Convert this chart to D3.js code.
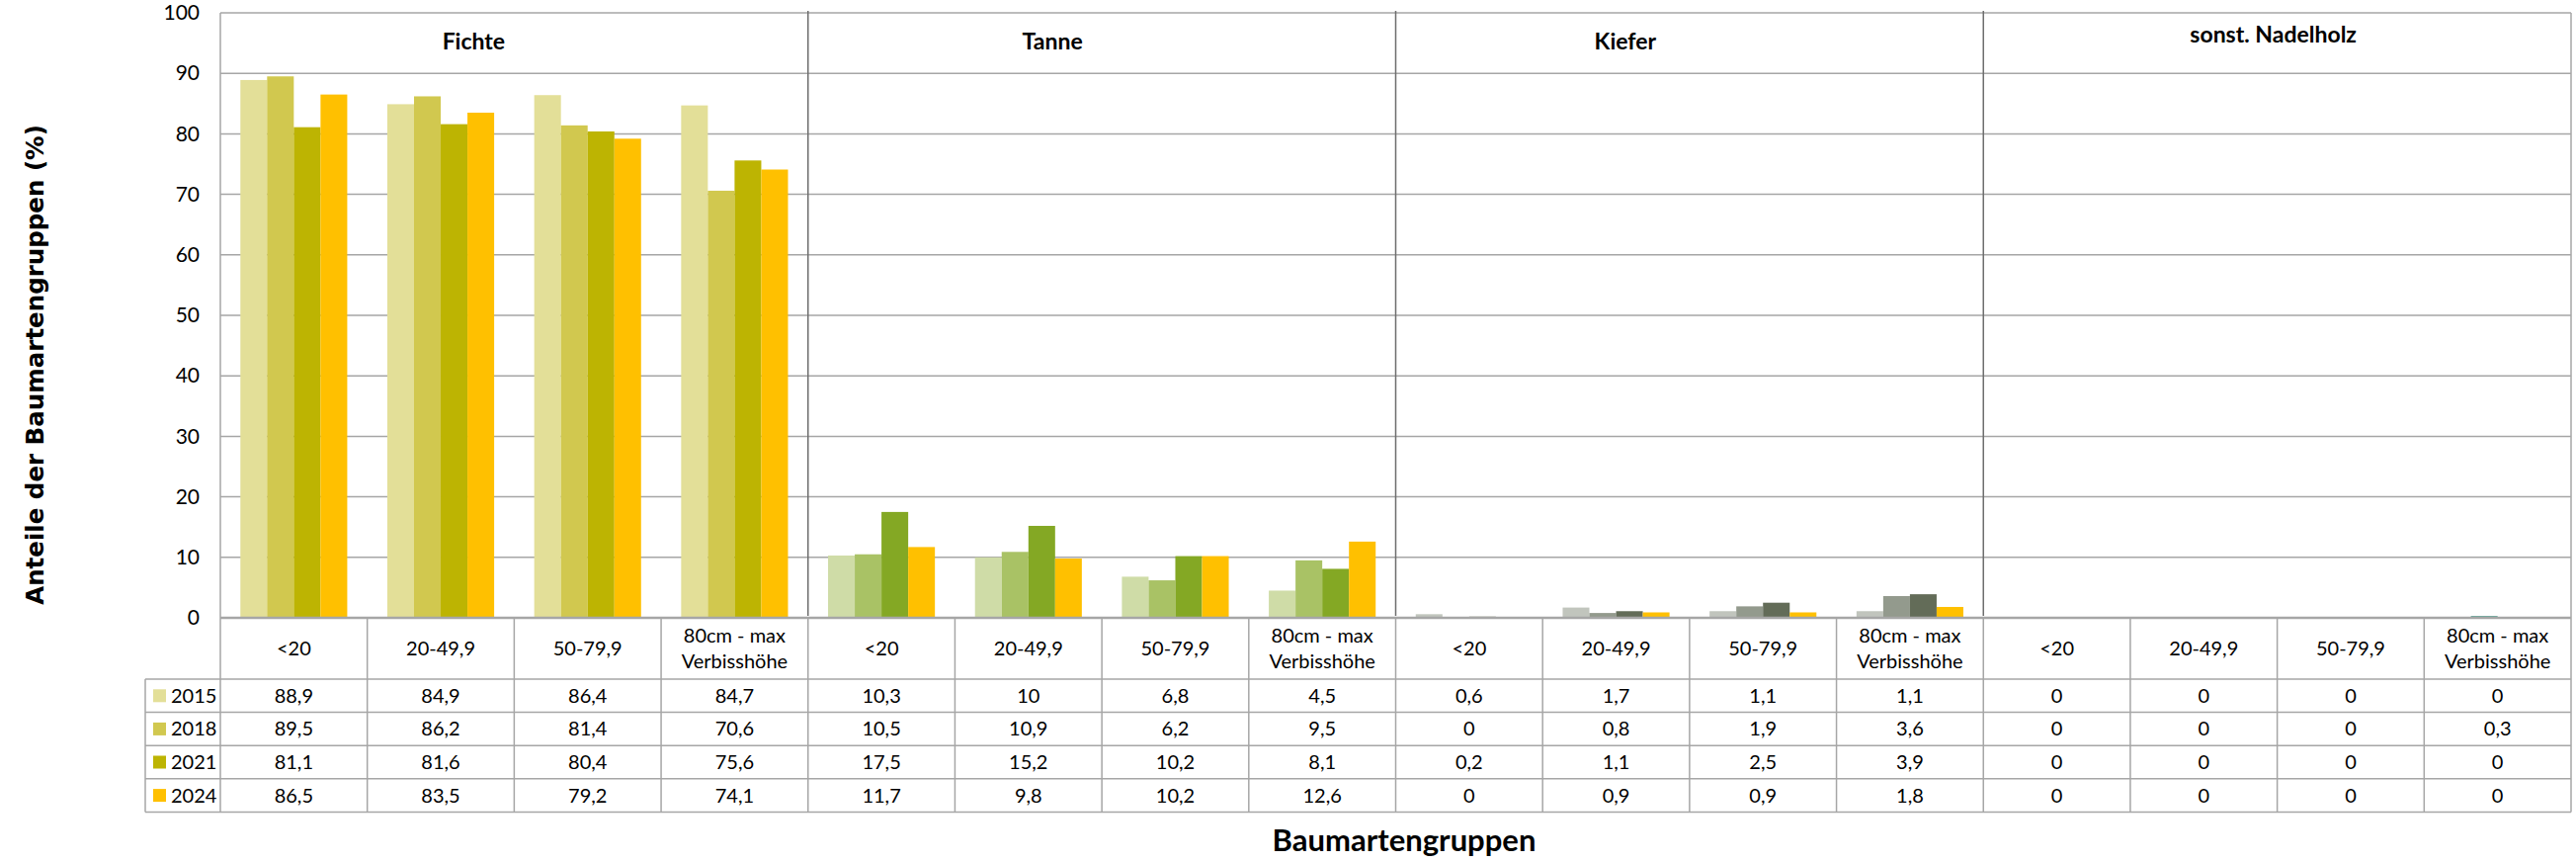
<!DOCTYPE html>
<html>
<head>
<meta charset="utf-8">
<script src="https://cdn.jsdelivr.net/npm/d3@7"></script>
<style>
    body { margin: 0; background: #fff; }
    text { font-family: Lato, "Open Sans", sans-serif; fill: #000; }
</style>
</head>
<body>
<svg id="chart" width="2607" height="872"></svg>
<script>
var groups = ['Fichte', 'Tanne', 'Kiefer', 'sonst. Nadelholz'];
var heightClasses = ['<20', '20-49,9', '50-79,9', '80cm - max|Verbisshöhe'];
var years = ['2015', '2018', '2021', '2024'];
var yTicks = [0, 10, 20, 30, 40, 50, 60, 70, 80, 90, 100];

// one row per year: 16 values (4 groups x 4 height classes)
var values2015 = [88.9, 84.9, 86.4, 84.7, 10.3, 10, 6.8, 4.5, 0.6, 1.7, 1.1, 1.1, 0, 0, 0, 0];
var values2018 = [89.5, 86.2, 81.4, 70.6, 10.5, 10.9, 6.2, 9.5, 0, 0.8, 1.9, 3.6, 0, 0, 0, 0.3];
var values2021 = [81.1, 81.6, 80.4, 75.6, 17.5, 15.2, 10.2, 8.1, 0.2, 1.1, 2.5, 3.9, 0, 0, 0, 0];
var values2024 = [86.5, 83.5, 79.2, 74.1, 11.7, 9.8, 10.2, 12.6, 0, 0.9, 0.9, 1.8, 0, 0, 0, 0];
var series = [values2015, values2018, values2021, values2024];

// colours per tree group (one per year)
var palettes = [
    ['#e3df98', '#d1c84f', '#bdb402', '#ffc000'],
    ['#cfdca7', '#a9c265', '#84a824', '#ffc000'],
    ['#c1c5bd', '#939a8d', '#636c58', '#ffc000'],
    ['#a8d3c8', '#4e9a8a', '#2f6e61', '#ffc000']
];

var width = 2607,
    height = 872,
    plotLeft = 223,
    plotRight = 2602,
    plotTop = 13,
    plotBottom = 625,
    legendLeft = 147,
    labelRowBottom = 687,
    rowHeight = 33.6,
    gridColor = '#a6a6a6',
    sepColor = '#6e6e6e',
    titleOffsets = [-41, -50, -65, -4];

var svg = d3.select('#chart');

var xGroup = d3.scaleBand()
    .domain(groups)
    .range([plotLeft, plotRight]);

var xCat = d3.scaleBand()
    .domain(d3.range(heightClasses.length))
    .range([0, xGroup.bandwidth()]);

var xYear = d3.scaleBand()
    .domain(years)
    .range([0, xCat.bandwidth()])
    .paddingOuter(0.75);

var y = d3.scaleLinear()
    .domain([0, 100])
    .range([plotBottom, plotTop]);

function cellX(i) {
    return xGroup(groups[Math.floor(i / 4)]) + xCat(i % 4);
}

function fmt(v) {
    return String(v).replace('.', ',');
}

// gridlines
svg.append('g')
    .selectAll('line')
    .data(yTicks.slice(1))
    .join('line')
    .attr('x1', plotLeft)
    .attr('x2', plotRight)
    .attr('y1', function(d) { return y(d); })
    .attr('y2', function(d) { return y(d); })
    .attr('stroke', gridColor)
    .attr('stroke-width', 1.5);

// plot frame left / right
svg.append('line')
    .attr('x1', plotLeft).attr('x2', plotLeft)
    .attr('y1', plotTop).attr('y2', plotBottom)
    .attr('stroke', gridColor).attr('stroke-width', 1.5);
svg.append('line')
    .attr('x1', plotRight).attr('x2', plotRight)
    .attr('y1', plotTop).attr('y2', plotBottom)
    .attr('stroke', gridColor).attr('stroke-width', 1.5);

// y axis labels
var yAxis = d3.axisLeft(y)
    .tickValues(yTicks)
    .tickSize(0)
    .tickPadding(21);

svg.append('g')
    .attr('transform', 'translate(' + plotLeft + ',0)')
    .call(yAxis)
    .call(function(g) { g.select('.domain').remove(); })
    .selectAll('text')
    .attr('font-size', 21)
    .attr('fill', '#000');

// group separators
svg.append('g')
    .selectAll('line')
    .data(groups.slice(1))
    .join('line')
    .attr('x1', function(d) { return xGroup(d); })
    .attr('x2', function(d) { return xGroup(d); })
    .attr('y1', plotTop - 2)
    .attr('y2', plotBottom - 2)
    .attr('stroke', sepColor)
    .attr('stroke-width', 1.5);

// group titles
svg.append('g')
    .selectAll('text')
    .data(groups)
    .join('text')
    .attr('x', function(d, i) { return xGroup(d) + xGroup.bandwidth() / 2 + titleOffsets[i]; })
    .attr('y', function(d, i) { return i === 3 ? 43 : 50; })
    .attr('text-anchor', 'middle')
    .attr('font-size', 23)
    .attr('font-weight', 700)
    .text(function(d) { return d; });

// bars
series.forEach(function(vals, s) {
    svg.append('g')
        .selectAll('rect')
        .data(vals)
        .join('rect')
        .attr('x', function(d, i) { return cellX(i) + xYear(years[s]); })
        .attr('width', xYear.bandwidth())
        .attr('y', function(d) { return y(d); })
        .attr('height', function(d) { return y(0) - y(d); })
        .attr('fill', function(d, i) { return palettes[Math.floor(i / 4)][s]; });
});

// data table
var tableBottom = labelRowBottom + rowHeight * years.length;
var cells = d3.range(groups.length * heightClasses.length);
var table = svg.append('g');

table.selectAll('line.v')
    .data(cells.concat([cells.length]))
    .join('line')
    .attr('class', 'v')
    .attr('x1', function(i) { return i < cells.length ? cellX(i) : plotRight; })
    .attr('x2', function(i) { return i < cells.length ? cellX(i) : plotRight; })
    .attr('y1', plotBottom)
    .attr('y2', tableBottom)
    .attr('stroke', gridColor)
    .attr('stroke-width', 1.5);

table.append('line')
    .attr('x1', legendLeft).attr('x2', legendLeft)
    .attr('y1', labelRowBottom).attr('y2', tableBottom)
    .attr('stroke', gridColor).attr('stroke-width', 1.5);

table.selectAll('line.h')
    .data(d3.range(years.length + 1))
    .join('line')
    .attr('class', 'h')
    .attr('x1', legendLeft)
    .attr('x2', plotRight)
    .attr('y1', function(r) { return labelRowBottom + r * rowHeight; })
    .attr('y2', function(r) { return labelRowBottom + r * rowHeight; })
    .attr('stroke', gridColor)
    .attr('stroke-width', 1.5);

// x axis line at 0
svg.append('line')
    .attr('x1', plotLeft).attr('x2', plotRight)
    .attr('y1', y(0)).attr('y2', y(0))
    .attr('stroke', gridColor).attr('stroke-width', 2.5);

// category labels
var catLabels = table.selectAll('text.cat')
    .data(cells)
    .join('text')
    .attr('class', 'cat')
    .attr('text-anchor', 'middle')
    .attr('font-size', 20)
    .attr('x', function(i) { return cellX(i) + xCat.bandwidth() / 2; });

catLabels.each(function(i) {
    var parts = heightClasses[i % 4].split('|');
    var t = d3.select(this);
    var mid = (plotBottom + labelRowBottom) / 2 + 7;
    parts.forEach(function(p, k) {
        t.append('tspan')
            .attr('x', cellX(i) + xCat.bandwidth() / 2)
            .attr('y', mid + (k - (parts.length - 1) / 2) * 26)
            .text(p);
    });
});

// value rows with legend keys
series.forEach(function(vals, s) {
    var cy = labelRowBottom + (s + 0.5) * rowHeight;

    table.append('rect')
        .attr('x', 155)
        .attr('y', cy - 6.5)
        .attr('width', 13)
        .attr('height', 13)
        .attr('fill', palettes[0][s]);

    table.append('text')
        .attr('x', 173)
        .attr('y', cy + 7)
        .attr('font-size', 20)
        .text(years[s]);

    table.append('g')
        .selectAll('text')
        .data(vals)
        .join('text')
        .attr('x', function(d, i) { return cellX(i) + xCat.bandwidth() / 2; })
        .attr('y', cy + 7)
        .attr('text-anchor', 'middle')
        .attr('font-size', 20)
        .text(function(d) { return fmt(d); });
});

// axis titles
svg.append('text')
    .attr('transform', 'translate(44,369) rotate(-90)')
    .attr('text-anchor', 'middle')
    .style('font-family', '"DejaVu Sans", Verdana, sans-serif')
    .attr('font-size', 24.5)
    .attr('font-weight', 700)
    .text('Anteile der Baumartengruppen (%)');

svg.append('text')
    .attr('x', 1421)
    .attr('y', 861)
    .attr('text-anchor', 'middle')
    .attr('font-size', 31)
    .attr('font-weight', 700)
    .text('Baumartengruppen');
</script>
</body>
</html>
